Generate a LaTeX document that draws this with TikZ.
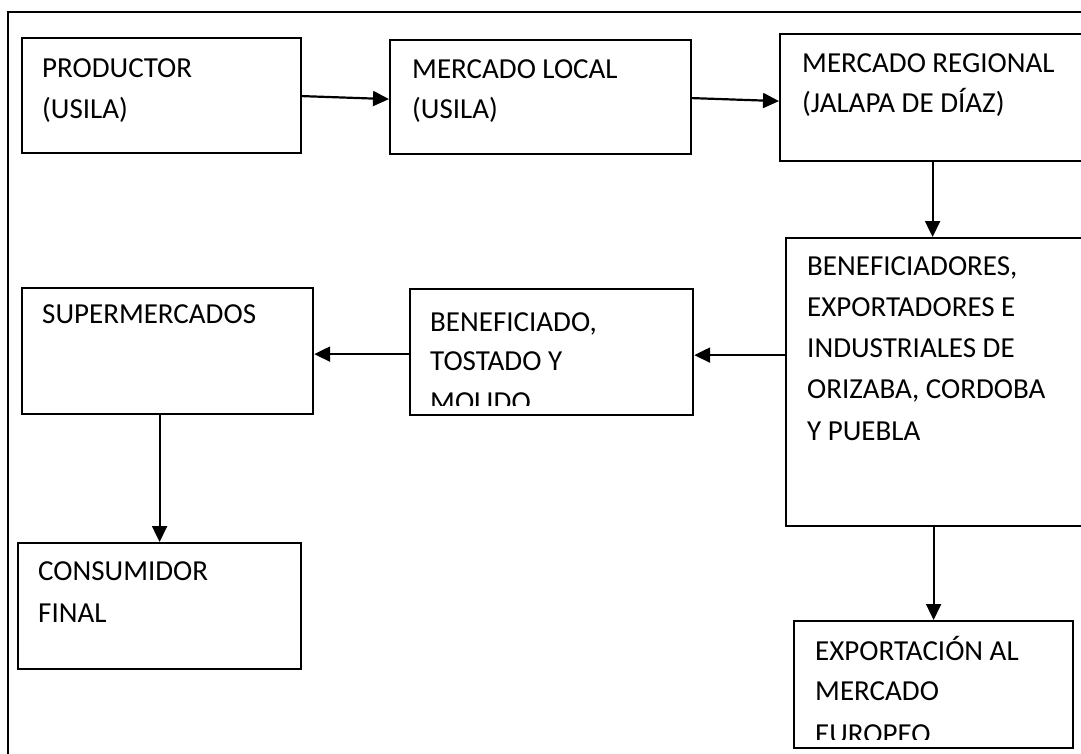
\documentclass[tikz,border=0pt]{standalone}
\usepackage{fontspec}
\setmainfont{Carlito}
\usetikzlibrary{arrows.meta}
\tikzset{
  box/.style={draw, line width=2.2pt, rectangle, anchor=north west, inner sep=0pt},
  txt/.style={anchor=base west, inner sep=0pt, font=\fontsize{29}{41}\selectfont},
  arr/.style={line width=2.2pt, -{Triangle[length=16pt,width=15pt]}},
  frame/.style={line width=2.2pt},
}
\begin{document}
\begin{tikzpicture}[x=1pt,y=-1pt]
\useasboundingbox (0,0) rectangle (1081,753);
\clip (0,0) rectangle (1081,753);
\fill[white] (0,0) rectangle (1081,753);
% outer frame
\draw[frame] (8,11.7) rectangle (1100,775);

% boxes
\node[box, minimum width=279pt, minimum height=115pt] (prod) at (21,37) {};
\node[box, minimum width=301pt, minimum height=114pt] (local) at (389,39) {};
\node[box, minimum width=308pt, minimum height=127pt] (regional) at (779,33) {};
\node[box, minimum width=305pt, minimum height=288pt] (benef) at (785,237) {};
\node[box, minimum width=279pt, minimum height=127pt] (export) at (793,620) {};
\node[box, minimum width=283pt, minimum height=126pt] (benefi) at (409,288) {};
\node[box, minimum width=291pt, minimum height=126pt] (super) at (21,287) {};
\node[box, minimum width=283pt, minimum height=126pt] (cons) at (17,542) {};

% texts
\node[txt] (prodA) at (42,77) {PRODUCTOR};
\node[txt] (prodB) at (42,118) {(USILA)};
\node[txt] (localA) at (412,78) {MERCADO LOCAL};
\node[txt] (localB) at (412,118) {(USILA)};
\node[txt] (regA) at (802,72) {MERCADO REGIONAL};
\node[txt] (regB) at (802,112) {(JALAPA DE DÍAZ)};
\node[txt] (benA) at (807,275) {BENEFICIADORES,};
\node[txt] (benB) at (807,316) {EXPORTADORES E};
\node[txt] (benC) at (807,357.5) {INDUSTRIALES DE};
\node[txt] (benD) at (807,398) {ORIZABA, CORDOBA};
\node[txt] (benE) at (807,440) {Y PUEBLA};
\node[txt] (supA) at (42,323) {SUPERMERCADOS};
\node[txt] (conA) at (38,580) {CONSUMIDOR};
\node[txt] (conB) at (38,622) {FINAL};
\begin{scope}
  \clip ([xshift=1pt]benefi.north west) rectangle ([yshift=11pt]benefi.south east);
  \node[txt] (bfA) at (430,331) {BENEFICIADO,};
  \node[txt] (bfB) at (430,370) {TOSTADO Y};
  \node[txt] (bfC) at (430,411) {MOLIDO};
\end{scope}
\begin{scope}
  \clip ([xshift=1pt]export.north west) rectangle ([yshift=10pt]export.south east);
  \node[txt] (exA) at (815,660) {EXPORTACIÓN AL};
  \node[txt] (exB) at (815,700) {MERCADO};
  \node[txt] (exC) at (815,743) {EUROPEO};
\end{scope}

% connectors
\draw[arr] ([yshift=-0.5pt]prod.east) -- ([yshift=-2pt]local.west);
\draw[arr] ([yshift=-1pt]local.east) -- ([yshift=-3.5pt]regional.west);
\draw[arr] ([xshift=-1.5pt]regional.south) -- ([xshift=-1.5pt]regional.south |- benef.north);
\draw[arr] (benef.south -| export.north) -- (export.north);
\draw[arr] ([yshift=-3pt]benef.west |- benefi.east) -- ([yshift=-3pt]benefi.east);
\draw[arr] ([yshift=-2pt]benefi.west) -- ([yshift=-2pt]super.east |- benefi.west);
\draw[arr] (super.south -| cons.north) -- (cons.north);
\end{tikzpicture}
\end{document}
